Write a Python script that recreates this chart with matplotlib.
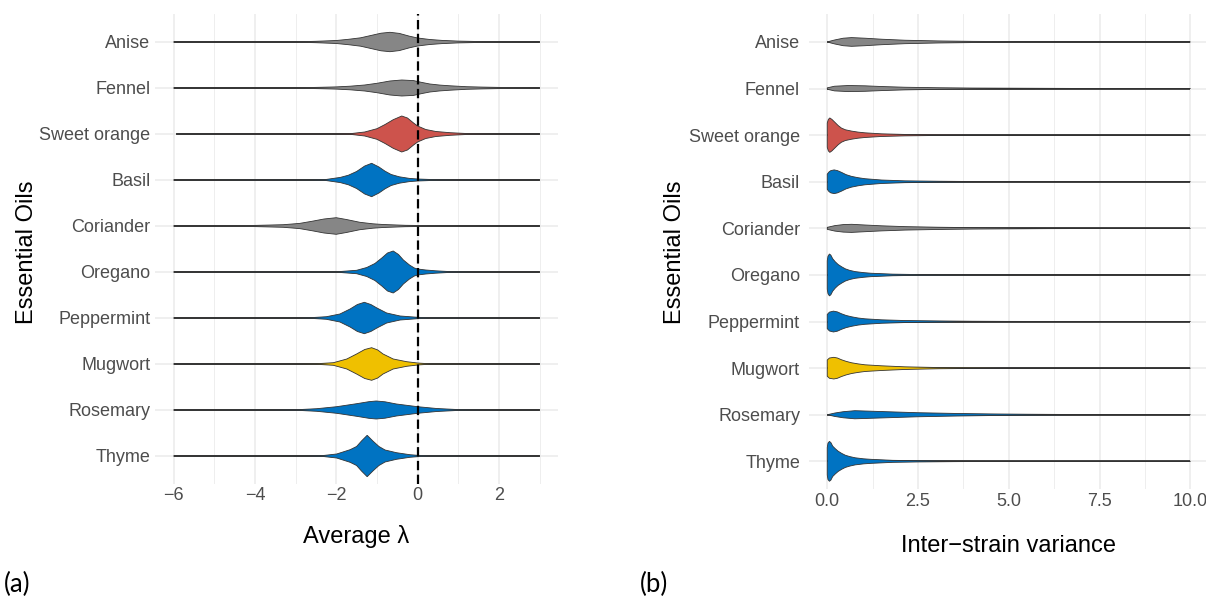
import numpy as np
import matplotlib.pyplot as plt

# Essential oils, top to bottom
oils = ['Anise', 'Fennel', 'Sweet orange', 'Basil', 'Coriander',
        'Oregano', 'Peppermint', 'Mugwort', 'Rosemary', 'Thyme']
oil_groups = ['grey', 'grey', 'red', 'blue', 'grey',
              'blue', 'blue', 'yellow', 'blue', 'blue']
group_colors = {'grey': '#868686', 'red': '#CD534C',
                'blue': '#0073C2', 'yellow': '#EFC000'}

# (a) Average lambda: violin outline (x, half-width in px of a 46px row)
lam_x = [
    [-6, -3.0, -2.5, -2.0, -1.7, -1.4, -1.15, -0.9, -0.68, -0.45, -0.2, 0.0, 0.3, 0.6, 1.0, 1.6, 2.2, 3.0],
    [-6, -3.0, -2.4, -2.0, -1.66, -1.3, -1.0, -0.68, -0.39, -0.1, 0.1, 0.3, 0.55, 0.8, 1.2, 1.6, 2.0, 2.6, 3.0],
    [-5.93, -2.0, -1.6, -1.3, -1.0, -0.8, -0.6, -0.39, -0.25, -0.1, 0.0, 0.2, 0.45, 0.8, 1.2, 1.8, 3.0],
    [-6, -2.6, -2.24, -1.9, -1.7, -1.5, -1.3, -1.13, -0.95, -0.8, -0.65, -0.45, -0.2, 0.0, 0.47, 1.0, 3.0],
    [-6, -5.0, -4.0, -3.3, -2.9, -2.6, -2.3, -2.0, -1.75, -1.42, -1.1, -0.85, -0.3, 0.47, 1.5, 3.0],
    [-6, -2.0, -1.5, -1.25, -1.05, -0.88, -0.74, -0.6, -0.47, -0.35, -0.2, -0.08, 0.0, 0.2, 0.44, 0.8, 1.3, 3.0],
    [-6, -2.9, -2.65, -2.24, -1.91, -1.66, -1.48, -1.31, -1.15, -1.0, -0.76, -0.43, 0.0, 0.3, 3.0],
    [-6, -2.9, -2.48, -2.07, -1.74, -1.5, -1.3, -1.13, -0.98, -0.85, -0.6, -0.27, 0.0, 0.3, 3.0],
    [-6, -3.5, -2.97, -2.48, -1.99, -1.5, -1.2, -1.02, -0.8, -0.52, -0.25, 0.0, 0.47, 0.96, 1.3, 1.8, 3.0],
    [-6, -2.7, -2.32, -1.99, -1.66, -1.5, -1.38, -1.24, -1.1, -0.95, -0.8, -0.52, -0.19, 0.0, 0.3, 3.0],
]
lam_w = [
    [0, 0.2, 0.7, 1.5, 2.7, 4.2, 6.5, 8.8, 9.7, 8.6, 5.8, 4.0, 2.5, 1.6, 0.9, 0.4, 0.15, 0],
    [0, 0.2, 0.7, 1.1, 1.8, 3.0, 4.7, 7.0, 8.0, 7.4, 5.6, 4.0, 2.9, 2.2, 1.3, 0.9, 0.6, 0.3, 0],
    [0, 0.2, 0.6, 2.0, 5.3, 9.5, 14.3, 18.0, 16.0, 11.0, 8.0, 4.5, 2.5, 1.3, 0.5, 0.15, 0],
    [0, 0.2, 0.6, 2.6, 4.8, 8.5, 14.0, 16.7, 13.0, 8.8, 5.5, 3.2, 1.6, 1.0, 0.3, 0.1, 0],
    [0, 0.2, 0.6, 1.3, 2.6, 4.7, 7.0, 8.3, 6.5, 3.7, 2.2, 1.5, 0.7, 0.3, 0.1, 0],
    [0, 0.2, 1.7, 4.5, 8.5, 14.0, 19.0, 21.0, 17.5, 12.0, 7.0, 4.0, 3.0, 2.0, 1.2, 0.4, 0.1, 0],
    [0, 0.1, 0.3, 1.3, 4.0, 9.0, 13.5, 15.7, 13.5, 10.0, 5.0, 2.0, 0.7, 0.2, 0],
    [0, 0.1, 0.3, 1.3, 5.0, 10.0, 14.5, 16.3, 14.0, 10.0, 5.0, 2.3, 1.0, 0.2, 0],
    [0, 0.1, 0.3, 1.3, 3.3, 6.3, 8.3, 9.0, 8.2, 6.0, 4.6, 3.3, 1.5, 0.5, 0.2, 0.05, 0],
    [0, 0.1, 0.5, 2.0, 6.3, 9.5, 15.0, 20.7, 15.0, 9.5, 6.0, 3.3, 1.3, 0.7, 0.2, 0],
]

# (b) Inter-strain variance
var_x = [
    [0, 0.1, 0.21, 0.44, 0.67, 1.04, 1.5, 2.14, 3.06, 4.0, 5.0, 6.0, 7.0, 10.0],
    [0, 0.2, 0.58, 1.04, 1.5, 2.14, 3.06, 4.0, 5.5, 7.0, 10.0],
    [0.0, 0.03, 0.07, 0.13, 0.21, 0.3, 0.39, 0.5, 0.67, 0.85, 1.04, 1.5, 2.14, 3.06, 4.0, 5.0, 10.0],
    [0.0, 0.05, 0.1, 0.19, 0.28, 0.39, 0.52, 0.67, 0.85, 1.04, 1.5, 2.14, 3.06, 4.0, 5.0, 10.0],
    [0, 0.21, 0.44, 0.67, 1.04, 1.5, 2.14, 3.06, 4.0, 5.0, 6.0, 7.5, 10.0],
    [0.0, 0.02, 0.06, 0.1, 0.15, 0.22, 0.3, 0.4, 0.5, 0.62, 0.77, 1.0, 1.2, 1.8, 2.5, 3.5, 5.0, 10.0],
    [0.0, 0.06, 0.17, 0.28, 0.39, 0.52, 0.67, 0.85, 1.04, 1.5, 2.14, 3.06, 4.0, 5.0, 6.5, 10.0],
    [0.0, 0.06, 0.18, 0.28, 0.39, 0.52, 0.67, 0.85, 1.04, 1.5, 2.14, 3.06, 4.0, 5.0, 10.0],
    [0, 0.21, 0.44, 0.76, 1.2, 1.8, 2.5, 3.5, 4.5, 5.5, 7.0, 8.5, 10.0],
    [0.0, 0.02, 0.06, 0.1, 0.15, 0.22, 0.3, 0.4, 0.5, 0.62, 0.77, 1.0, 1.2, 1.8, 2.5, 3.5, 4.5, 10.0],
]
var_w = [
    [0, 1.0, 2.0, 3.7, 4.3, 3.7, 2.7, 1.7, 1.0, 0.6, 0.4, 0.2, 0.05, 0],
    [0.7, 2.3, 3.0, 2.7, 2.0, 1.3, 0.8, 0.5, 0.3, 0.1, 0],
    [12.0, 15.5, 17.0, 15.5, 12.7, 9.5, 7.0, 5.3, 4.0, 3.0, 2.3, 1.3, 0.7, 0.3, 0.15, 0.05, 0],
    [7.5, 9.8, 11.0, 11.7, 11.0, 9.3, 7.0, 5.3, 4.0, 3.0, 1.7, 0.9, 0.5, 0.25, 0.1, 0],
    [1.0, 2.7, 3.7, 4.0, 3.3, 2.5, 1.7, 1.1, 0.7, 0.5, 0.3, 0.15, 0],
    [14.0, 18.5, 20.7, 19.5, 16.0, 13.0, 10.3, 8.0, 6.0, 4.5, 3.3, 2.3, 1.7, 0.8, 0.4, 0.15, 0.05, 0],
    [7.0, 9.3, 10.3, 9.5, 7.7, 6.0, 4.7, 3.5, 2.7, 1.7, 1.0, 0.6, 0.3, 0.15, 0.05, 0],
    [8.0, 10.0, 10.7, 10.0, 8.3, 6.7, 5.3, 4.2, 3.3, 2.3, 1.3, 0.6, 0.3, 0.1, 0],
    [0, 1.7, 3.0, 4.0, 3.5, 2.8, 2.0, 1.3, 0.8, 0.5, 0.2, 0.05, 0],
    [13.5, 18.0, 19.7, 18.5, 15.0, 12.5, 10.0, 7.8, 6.0, 4.7, 3.5, 2.5, 2.0, 1.0, 0.6, 0.3, 0.1, 0],
]

lam_ticks = [-6, -4, -2, 0, 2]
lam_ticklabels = ['\u22126', '\u22124', '\u22122', '0', '2']
var_ticks = [0, 2.5, 5, 7.5, 10]
var_ticklabels = ['0.0', '2.5', '5.0', '7.5', '10.0']

ROW_PX = 46.0
FONT = 'Liberation Sans'
W, H = 1206, 600

fig = plt.figure(figsize=(W / 100, H / 100), dpi=100)


def px_axes(left, top, right, bottom):
    return fig.add_axes([left / W, 1 - bottom / H, (right - left) / W, (bottom - top) / H])


def draw_panel(ax, xs_list, ws_list, xlim, ticks, ticklabels, minor, ypad):
    ypos = np.arange(len(oils), 0, -1)
    for y, xs, ws, grp in zip(ypos, xs_list, ws_list, oil_groups):
        xs = np.array(xs, dtype=float)
        half = np.array(ws, dtype=float) / ROW_PX
        ax.plot([xs[0], xs[-1]], [y, y], color='#333333', lw=1.25, zorder=2,
                solid_capstyle='butt')
        px = np.concatenate([xs, xs[::-1]])
        py = np.concatenate([y + half, (y - half)[::-1]])
        ax.fill(px, py, facecolor=group_colors[grp], edgecolor='#333333',
                lw=0.6, zorder=3)
    ax.set_xlim(*xlim)
    ax.set_ylim(0.4, len(oils) + 0.6)
    ax.set_xticks(ticks)
    ax.set_xticklabels(ticklabels)
    ax.set_xticks(minor, minor=True)
    ax.set_yticks(ypos)
    ax.set_yticklabels(oils)
    ax.grid(which='major', color='#EBEBEB', lw=1.1, zorder=0)
    ax.grid(which='minor', axis='x', color='#EBEBEB', lw=0.6, zorder=0)
    ax.set_axisbelow(True)
    for s in ax.spines.values():
        s.set_visible(False)
    ax.tick_params(which='both', length=0)
    ax.tick_params(axis='x', pad=2.5, labelsize=13, labelcolor='#4D4D4D')
    ax.tick_params(axis='y', pad=ypad, labelsize=13, labelcolor='#4D4D4D')
    for lab in ax.get_xticklabels() + ax.get_yticklabels():
        lab.set_family(FONT)


axL = px_axes(155.2, 14.4, 558.0, 483.6)
draw_panel(axL, lam_x, lam_w, (-6.45, 3.45), lam_ticks, lam_ticklabels,
           [-5, -3, -1, 1, 3], 3.5)
axL.axvline(0, color='black', lw=1.6, dashes=(4.2, 2.0), zorder=5)

axR = px_axes(809.1, 14.0, 1208.5, 489.3)
draw_panel(axR, var_x, var_w, (-0.5, 10.5), var_ticks, var_ticklabels,
           [1.25, 3.75, 6.25, 8.75], 6.5)


def ftext(x, y, s, **kw):
    fig.text(x / W, 1 - y / H, s, **kw)


ftext(356.5, 537, 'Average \u03bb', ha='center', va='center', fontsize=17, family=FONT)
ftext(1008.5, 546, 'Inter\u2212strain variance', ha='center', va='center', fontsize=17, family=FONT)
ftext(27, 252, 'Essential Oils', ha='center', va='center', rotation=90, fontsize=17, family=FONT)
ftext(675, 252, 'Essential Oils', ha='center', va='center', rotation=90, fontsize=17, family=FONT)
ftext(4, 584, '(a)', ha='left', va='center', fontsize=18.5, family='Lato')
ftext(640, 584, '(b)', ha='left', va='center', fontsize=18.5, family='Lato')

fig.savefig('out.png', dpi=100)
